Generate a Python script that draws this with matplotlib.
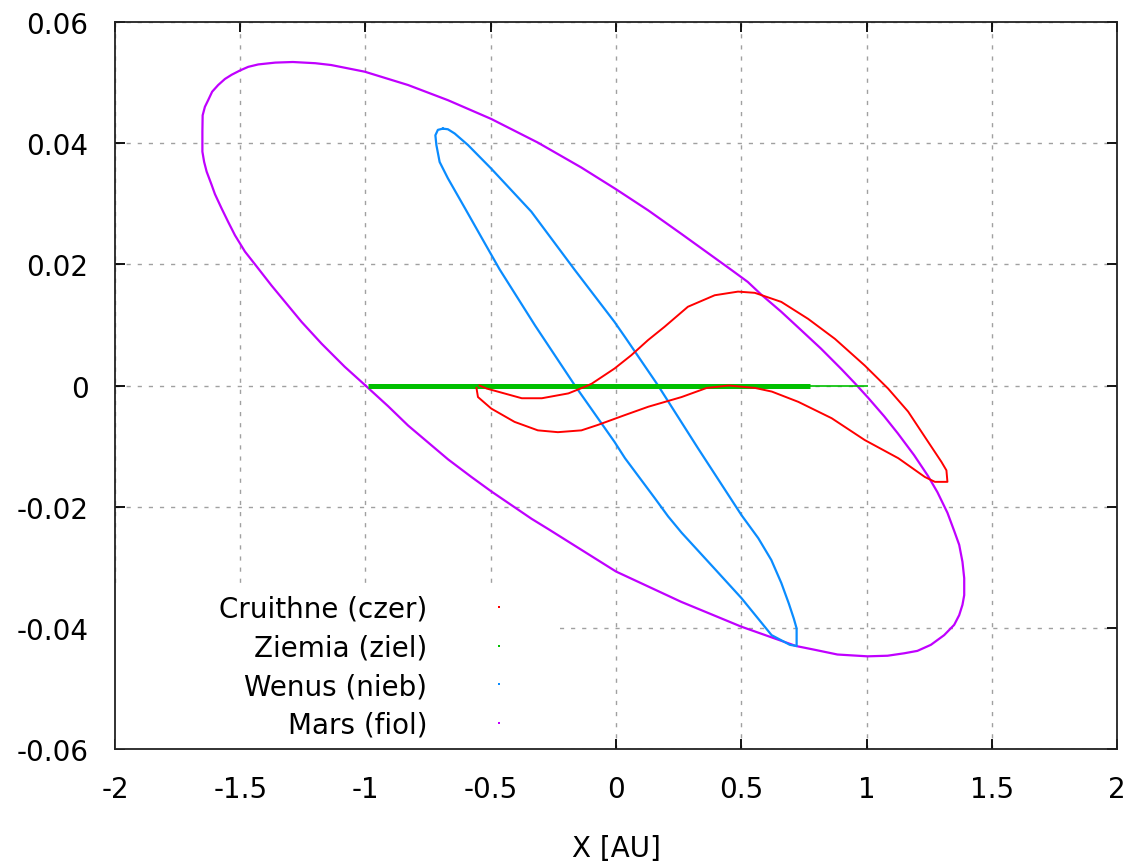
import matplotlib
matplotlib.use("Agg")
import matplotlib.pyplot as plt
from matplotlib.lines import Line2D
from matplotlib.patches import Rectangle

# =========================
# DATA (X [AU] / Y [AU])
# =========================
mars_x = [-1.000, -0.910, -0.830, -0.750, -0.670, -0.577, -0.497, -0.337,
          -0.270, 0.000, 0.260, 0.500, 0.719, 0.791, 0.884, 1.004, 1.084,
          1.150, 1.203, 1.257, 1.310, 1.350, 1.370, 1.383, 1.390, 1.390,
          1.383, 1.370, 1.350, 1.323, 1.283, 1.245, 1.190, 1.125, 1.071,
          1.006, 0.953, 0.900, 0.818, 0.740, 0.659, 0.580, 0.526, 0.460,
          0.262, 0.129, 0.000, -0.139, -0.312, -0.498, -0.671, -0.830,
          -1.003, -1.137, -1.200, -1.290, -1.360, -1.428, -1.468, -1.501,
          -1.534, -1.561, -1.588, -1.612, -1.628, -1.641, -1.650, -1.651,
          -1.651, -1.644, -1.634, -1.614, -1.601, -1.574, -1.548, -1.521,
          -1.481, -1.441, -1.375, -1.309, -1.255, -1.175, -1.083, -1.000]
mars_y = [0.0000, -0.0034, -0.0066, -0.0094, -0.0122, -0.0151, -0.0175,
          -0.0220, -0.0237, -0.0307, -0.0357, -0.0398, -0.0430, -0.0436,
          -0.0444, -0.0447, -0.0446, -0.0442, -0.0438, -0.0428, -0.0412,
          -0.0395, -0.0379, -0.0362, -0.0346, -0.0318, -0.0291, -0.0263,
          -0.0240, -0.0210, -0.0176, -0.0149, -0.0115, -0.0079, -0.0051,
          -0.0020, 0.0004, 0.0027, 0.0061, 0.0091, 0.0122, 0.0150, 0.0171,
          0.0191, 0.0250, 0.0289, 0.0324, 0.0360, 0.0401, 0.0440, 0.0471,
          0.0496, 0.0518, 0.0529, 0.0532, 0.0534, 0.0533, 0.0530, 0.0526,
          0.0520, 0.0513, 0.0506, 0.0496, 0.0485, 0.0471, 0.0460, 0.0446,
          0.0419, 0.0386, 0.0369, 0.0353, 0.0331, 0.0316, 0.0292, 0.0270,
          0.0248, 0.0221, 0.0200, 0.0165, 0.0132, 0.0105, 0.0069, 0.0031,
          0.0000]

venus_x = [-0.691, -0.711, -0.721, -0.717, -0.704, -0.671, -0.602, -0.535,
           -0.465, -0.323, -0.164, -0.006, 0.036, 0.155, 0.208, 0.262, 0.395,
           0.501, 0.621, 0.694, 0.721, 0.721, 0.710, 0.690, 0.660, 0.620,
           0.568, 0.501, 0.328, 0.168, 0.036, -0.006, -0.165, -0.338, -0.498,
           -0.591, -0.644, -0.671, -0.691]
venus_y = [0.0424, 0.0422, 0.0413, 0.0397, 0.0369, 0.0342, 0.0292, 0.0243,
           0.0192, 0.0099, 0.0000, -0.0093, -0.0120, -0.0186, -0.0216,
           -0.0243, -0.0303, -0.0351, -0.0412, -0.0428, -0.0430, -0.0401,
           -0.0385, -0.0360, -0.0326, -0.0288, -0.0252, -0.0214, -0.0104,
           0.0000, 0.0080, 0.0105, 0.0191, 0.0287, 0.0358, 0.0397, 0.0416,
           0.0423, 0.0424]

cruithne_x = [-0.557, -0.551, -0.498, -0.405, -0.312, -0.232, -0.138, -0.072,
              0.034, 0.129, 0.262, 0.362, 0.450, 0.555, 0.622, 0.728, 0.861,
              0.993, 1.127, 1.233, 1.273, 1.323, 1.319, 1.299, 1.246, 1.166,
              1.086, 0.993, 0.874, 0.767, 0.660, 0.554, 0.487, 0.394, 0.287,
              0.194, 0.128, 0.061, -0.006, -0.097, -0.124, -0.190, -0.296,
              -0.376, -0.516, -0.545]
cruithne_y = [-0.0004, -0.0019, -0.0038, -0.0060, -0.0074, -0.0077, -0.0074,
              -0.0065, -0.0049, -0.0035, -0.0019, -0.0004, 0.0000, -0.0004,
              -0.0010, -0.0027, -0.0054, -0.0090, -0.0120, -0.0151, -0.0159,
              -0.0159, -0.0140, -0.0126, -0.0093, -0.0043, -0.0005, 0.0033,
              0.0077, 0.0110, 0.0138, 0.0153, 0.0155, 0.0149, 0.0130, 0.0097,
              0.0075, 0.0050, 0.0028, 0.0003, -0.0002, -0.0013, -0.0021,
              -0.0021, -0.0005, 0.0000]

# Earth: dense part of the trace and the sparse tail
earth_dense_x = [-0.989, 0.774]
earth_dense_y = [0.0, 0.0]
earth_tail_x = [0.774, 1.006]
earth_tail_y = [0.0, 0.0]

legend_labels = ["Cruithne (czer)", "Ziemia (ziel)", "Wenus (nieb)", "Mars (fiol)"]

x_ticks = [-2, -1.5, -1, -0.5, 0, 0.5, 1, 1.5, 2]
x_tick_labels = ["-2", "-1.5", "-1", "-0.5", "0", "0.5", "1", "1.5", "2"]
y_ticks = [0.06, 0.04, 0.02, 0, -0.02, -0.04, -0.06]
y_tick_labels = ["0.06", "0.04", "0.02", "0", "-0.02", "-0.04", "-0.06"]

# =========================
# STYLE
# =========================
RED = "#ff0000"
GREEN = "#00c000"
BLUE = "#0a8cff"
PURPLE = "#c000ff"

plt.rcParams["font.family"] = ["DejaVu Sans"]
plt.rcParams["font.size"] = 20
plt.rcParams["axes.unicode_minus"] = False

# =========================
# FIGURE
# =========================
fig = plt.figure(figsize=(11.36, 8.62), dpi=100)
ax = fig.add_axes([0.1012, 0.1299, 0.8821, 0.8434])

ax.plot(mars_x, mars_y, color=PURPLE, linewidth=1.6, zorder=3)
ax.plot(venus_x, venus_y, color=BLUE, linewidth=1.6, zorder=3)
ax.plot(earth_dense_x, earth_dense_y, color=GREEN, linewidth=3.6,
        solid_capstyle="butt", zorder=4)
ax.plot(earth_tail_x, earth_tail_y, color=GREEN, linewidth=1.2,
        solid_capstyle="butt", zorder=4)
ax.plot(cruithne_x, cruithne_y, color=RED, linewidth=1.4, zorder=5)

ax.set_xlim(-2, 2)
ax.set_ylim(-0.06, 0.06)

ax.set_xticks(x_ticks)
ax.set_xticklabels(x_tick_labels)
ax.set_yticks(y_ticks)
ax.set_yticklabels(y_tick_labels)

ax.tick_params(axis="both", direction="in", length=7, width=1.3,
               top=True, right=True, colors="black")
ax.tick_params(axis="x", pad=19)
ax.tick_params(axis="y", pad=19)

for spine in ax.spines.values():
    spine.set_linewidth(1.3)
    spine.set_color("#222222")

ax.set_axisbelow(True)
ax.grid(True, color="#a0a0a0", linewidth=1.0, linestyle=(0, (3, 5)))

ax.set_xlabel("X [AU]", labelpad=22)

# key area is opaque in the original, hiding the grid underneath
ax.add_patch(Rectangle((0, 0), 0.444, 0.223, transform=ax.transAxes,
                       facecolor="white", edgecolor="none", zorder=1))

# =========================
# LEGEND
# =========================
handles = [
    Line2D([], [], linestyle="", marker="s", markersize=1.6, color=c,
           markeredgewidth=0)
    for c in [RED, GREEN, BLUE, PURPLE]
]

ax.legend(
    handles,
    legend_labels,
    loc="upper right",
    bbox_to_anchor=(0.411, 0.212),
    frameon=False,
    markerfirst=False,
    handlelength=2.0,
    handletextpad=1.59,
    labelspacing=0.38,
    borderpad=0,
    borderaxespad=0,
    fontsize=20,
)

plt.savefig("out.png", dpi=100)
